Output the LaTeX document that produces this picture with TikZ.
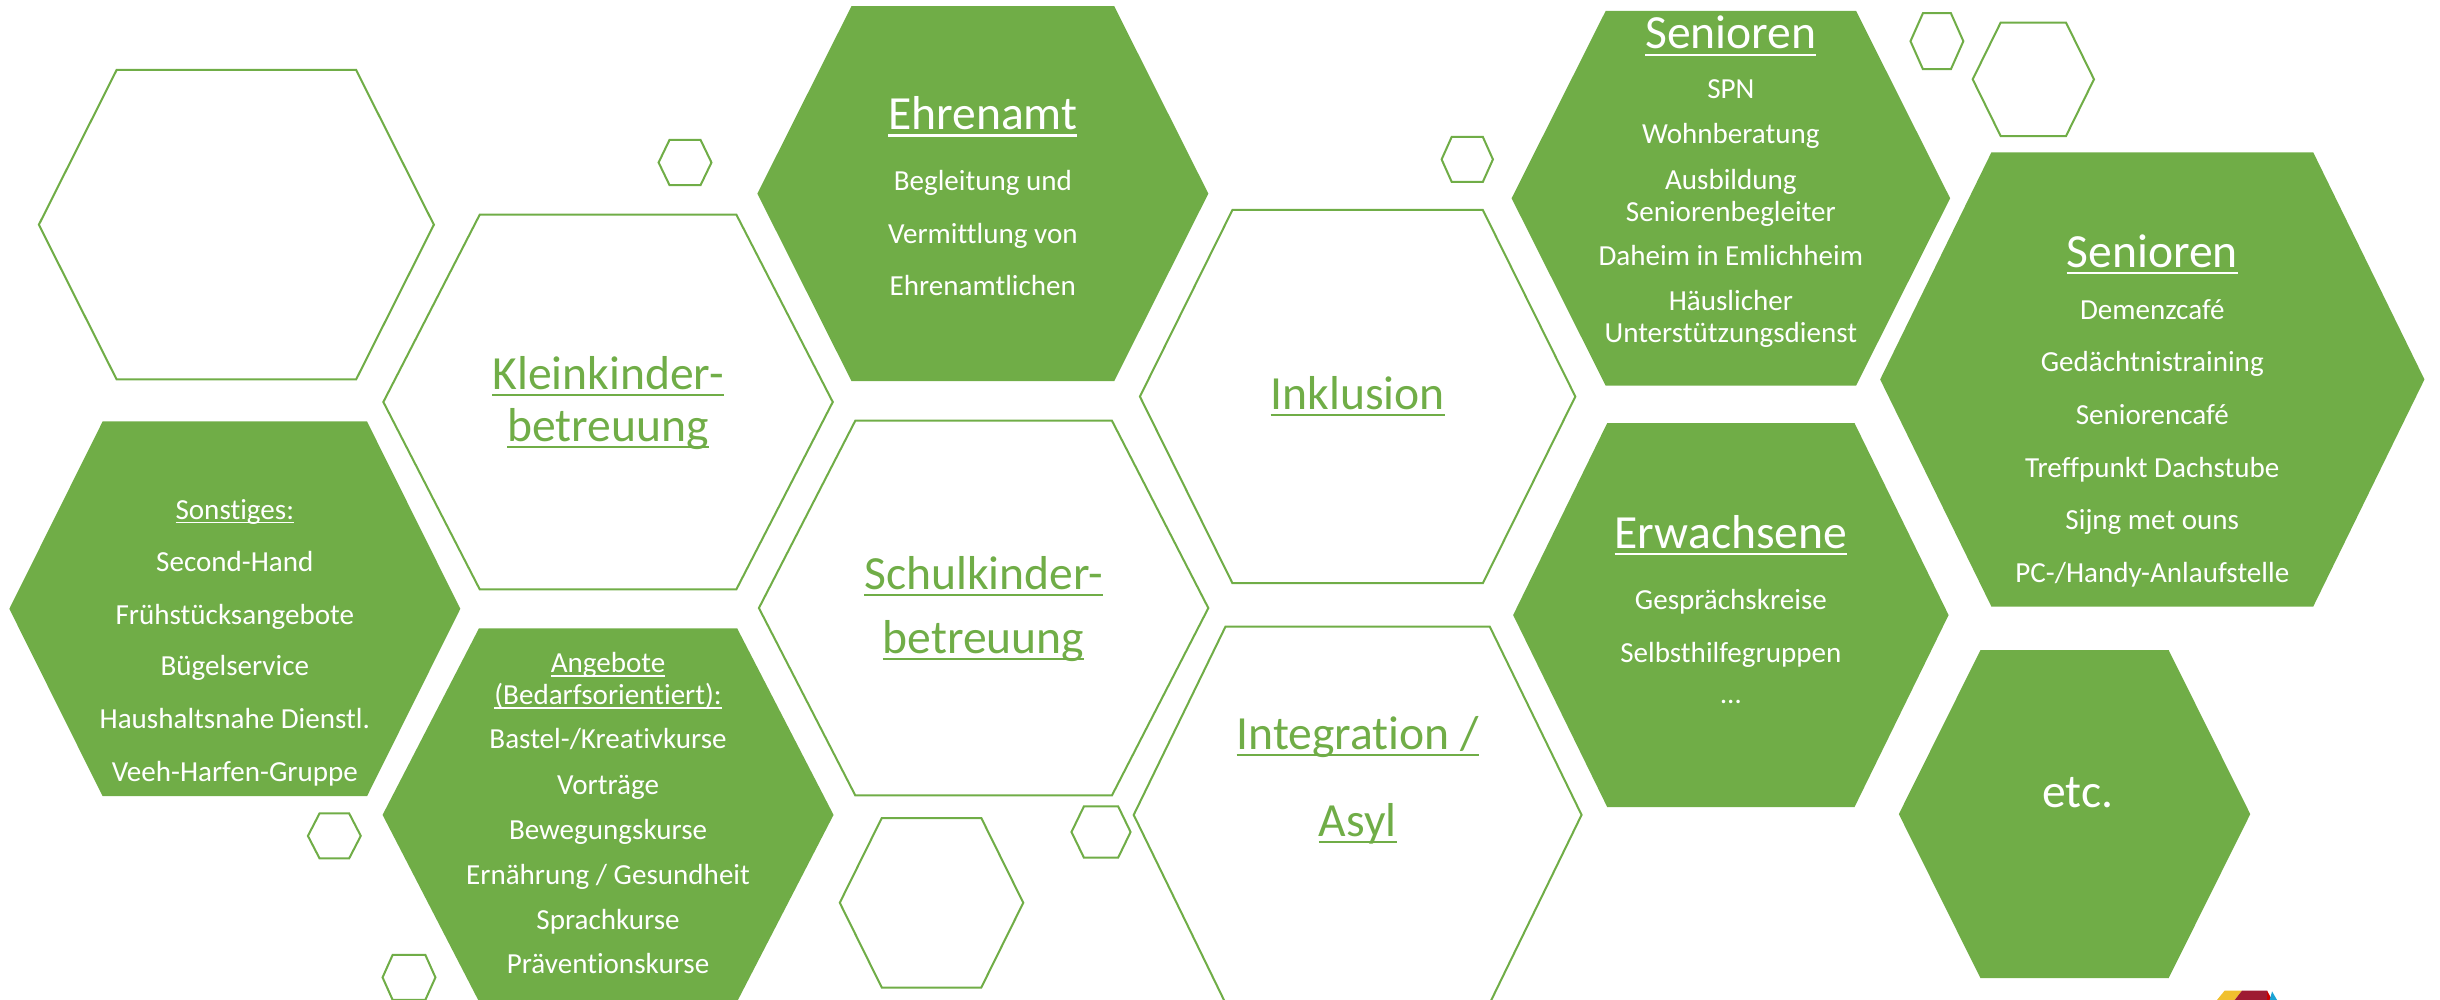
\documentclass[tikz,border=0pt]{standalone}
\usepackage{fontspec}
\setmainfont{Carlito}[Ligatures={TeX,NoCommon}]

\definecolor{hexgreen}{HTML}{70AD47}
\definecolor{logoyellow}{HTML}{F0C02E}
\definecolor{logored}{HTML}{9E1B32}
\definecolor{logoblue}{HTML}{1AA3D5}

% hexagon: style, centre x, centre y, half width, half height, half top edge
\newcommand{\hexa}[6]{%
  \path[#1] (#2-#4, #3) -- (#2-#6, #3-#5) -- (#2+#6, #3-#5)
    -- (#2+#4, #3) -- (#2+#6, #3+#5) -- (#2-#6, #3+#5) -- cycle;}
\newsavebox{\ulbox}
\newcommand{\uln}[1]{\sbox{\ulbox}{#1}\rlap{\rule[-0.14em]{\wd\ulbox}{0.045em}}\usebox{\ulbox}}

\begin{document}
\begin{tikzpicture}[x=0.5pt, y=-0.5pt,
    hexfill/.style={fill=hexgreen},
    hexline/.style={draw=hexgreen, line width=0.65pt},
    ttl/.style={anchor=base, inner sep=0pt, font=\fontsize{15.3}{18}\selectfont},
    txt/.style={anchor=base, inner sep=0pt, font=\fontsize{9.35}{11}\selectfont},
    onfill/.style={text=white},
    online/.style={text=hexgreen}]
  \useasboundingbox (0,0) rectangle (1569,643);
  \clip (0,0) rectangle (1569,643);

  % outlined hexagons
  \hexa{hexline}{152}{144.5}{127}{99.5}{77}
  \hexa{hexline}{440.5}{104.5}{17}{14.5}{10}
  \hexa{hexline}{391}{258.5}{144.5}{120.5}{82.5}
  \hexa{hexline}{943.5}{102.5}{16.5}{14.5}{10}
  \hexa{hexline}{873}{255}{140}{120}{80.5}
  \hexa{hexline}{632.5}{391}{144.5}{120.5}{82.5}
  \hexa{hexline}{215}{537.5}{17}{14.5}{9.5}
  \hexa{hexline}{263}{628.5}{17}{14.5}{10.5}
  \hexa{hexline}{599}{580.5}{59}{54.5}{32}
  \hexa{hexline}{708}{535}{19}{16.5}{11}
  \hexa{hexline}{873}{524}{144}{121}{85}
  \hexa{hexline}{1245.5}{26.5}{17}{18}{9}
  \hexa{hexline}{1307.5}{51}{39}{36.5}{21}

  % filled hexagons
  \hexa{hexfill}{151}{391.5}{145}{120.5}{85}
  \hexa{hexfill}{632}{124.5}{145}{120.5}{84.5}
  \hexa{hexfill}{391}{524}{145}{120}{83}
  \hexa{hexfill}{1113}{127.5}{141}{120.5}{80.5}
  \hexa{hexfill}{1384}{244}{175}{146}{103.5}
  \hexa{hexfill}{1113}{395.5}{140}{123.5}{79.5}
  \hexa{hexfill}{1334}{523.5}{113}{105.5}{60.5}

  % logo corner
  \fill[logoyellow] (1425.6,643) -- (1430.5,637) -- (1441.7,637) -- (1437,643) -- cycle;
  \fill[logored] (1437,643) -- (1441.7,637) -- (1457.8,637) -- (1457.8,643) -- cycle;
  \fill[red!80!black] (1457.8,643) -- (1457.8,637) -- (1461,643) -- cycle;
  \fill[logoblue] (1459.5,643) -- (1461,637.5) -- (1464.2,643) -- cycle;

  % outlined titles
  \node[ttl, online] (kk1) at (391, 250.5) {\uln{Kleinkinder-}};
  \node[ttl, online] (kk2) at (391, 284) {\uln{betreuung}};
  \node[ttl, online] (sk1) at (632.5, 379) {\uln{Schulkinder-}};
  \node[ttl, online] (sk2) at (632.5, 420) {\uln{betreuung}};
  \node[ttl, online] (ink) at (873, 263) {\uln{Inklusion}};
  \node[ttl, online] (int1) at (873, 482) {\uln{Integration /}};
  \node[ttl, online] (int2) at (873, 538) {\uln{Asyl}};

  % Ehrenamt
  \node[ttl, onfill] (ehr) at (632, 83.5) {\uln{Ehrenamt}};
  \node[txt, onfill] (ehr1) at (632, 122.5) {Begleitung und};
  \node[txt, onfill] (ehr2) at (632, 156.4) {Vermittlung von};
  \node[txt, onfill] (ehr3) at (632, 190.2) {Ehrenamtlichen};

  % Senioren (top)
  \node[ttl, onfill] (sen) at (1113, 31.5) {\uln{Senioren}};
  \node[txt, onfill] (sen1) at (1113, 63.5) {SPN};
  \node[txt, onfill] (sen2) at (1113, 92.3) {Wohnberatung};
  \node[txt, onfill] (sen3) at (1113, 121.8) {Ausbildung};
  \node[txt, onfill] (sen4) at (1113, 142.2) {Seniorenbegleiter};
  \node[txt, onfill] (sen5) at (1113, 170.5) {Daheim in Emlichheim};
  \node[txt, onfill] (sen6) at (1113, 199.8) {Häuslicher};
  \node[txt, onfill] (sen7) at (1113, 220.2) {Unterstützungsdienst};

  % Senioren (right)
  \node[ttl, onfill] (sr) at (1384, 171.7) {\uln{Senioren}};
  \node[txt, onfill] (sr1) at (1384, 205.4) {Demenzcafé};
  \node[txt, onfill] (sr2) at (1384, 239) {Gedächtnistraining};
  \node[txt, onfill] (sr3) at (1384, 273) {Seniorencafé};
  \node[txt, onfill] (sr4) at (1384, 307) {Treffpunkt Dachstube};
  \node[txt, onfill] (sr5) at (1384, 340.7) {Sijng met ouns};
  \node[txt, onfill] (sr6) at (1384, 374.4) {PC-/Handy-Anlaufstelle};

  % Sonstiges
  \node[txt, onfill] (so) at (151, 333.8) {\uln{Sonstiges:}};
  \node[txt, onfill] (so1) at (151, 367.7) {Second-Hand};
  \node[txt, onfill] (so2) at (151, 401.4) {Frühstücksangebote};
  \node[txt, onfill] (so3) at (151, 434.6) {Bügelservice};
  \node[txt, onfill] (so4) at (151, 468.6) {Haushaltsnahe Dienstl.};
  \node[txt, onfill] (so5) at (151, 502.5) {Veeh-Harfen-Gruppe};

  % Angebote
  \node[txt, onfill] (an) at (391, 432.4) {\uln{Angebote}};
  \node[txt, onfill] (an0) at (391, 453) {\uln{(Bedarfsorientiert):}};
  \node[txt, onfill] (an1) at (391, 481.6) {Bastel-/Kreativkurse};
  \node[txt, onfill] (an2) at (391, 510.9) {Vorträge};
  \node[txt, onfill] (an3) at (391, 539.9) {Bewegungskurse};
  \node[txt, onfill] (an4) at (391, 568.7) {Ernährung / Gesundheit};
  \node[txt, onfill] (an5) at (391, 597.7) {Sprachkurse};
  \node[txt, onfill] (an6) at (391, 626) {Präventionskurse};

  % Erwachsene
  \node[ttl, onfill] (erw) at (1113, 352.9) {\uln{Erwachsene}};
  \node[txt, onfill] (erw1) at (1113, 392) {Gesprächskreise};
  \node[txt, onfill] (erw2) at (1113, 426) {Selbsthilfegruppen};
  \node[txt, onfill] (erw3) at (1113, 452.5) {…};

  \node[ttl, onfill] (etc) at (1336, 519) {etc.};
\end{tikzpicture}
\end{document}
